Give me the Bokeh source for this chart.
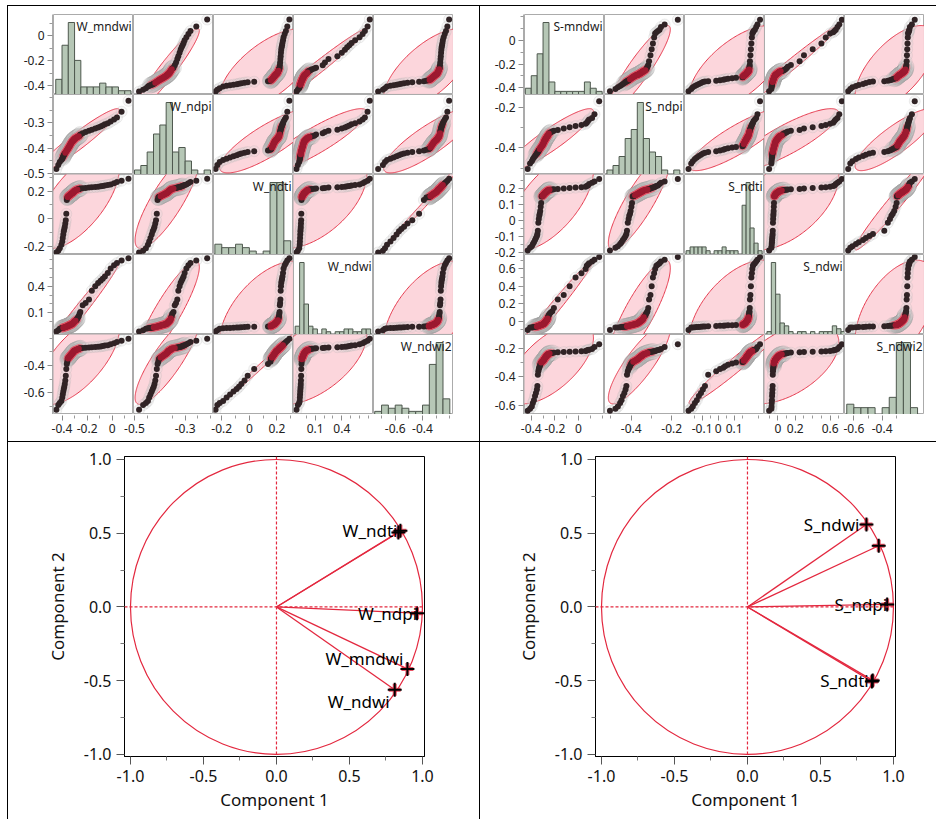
import numpy as np
from bokeh.plotting import figure
from bokeh.layouts import row, column
from bokeh.models import Range1d, FixedTicker, Spacer, ColumnDataSource, Span
from bokeh.embed import file_html
from bokeh.resources import INLINE
from bokeh.core.properties import value

FONT = "Noto Sans"

# ---------------- data: W group (sorted observations) ----------------
W_names = ["W_mndwi", "W_ndpi", "W_ndti", "W_ndwi", "W_ndwi2"]
W_mndwi = [-0.445, -0.430, -0.418, -0.405,
           -0.398, -0.394, -0.390, -0.386, -0.382, -0.378, -0.374, -0.370, -0.366, -0.362, -0.358, -0.355, -0.352,
           -0.349, -0.347, -0.344, -0.341, -0.338, -0.336, -0.333, -0.330, -0.327, -0.325, -0.322, -0.319, -0.316,
           -0.313, -0.311, -0.308, -0.306, -0.303, -0.301,
           -0.297, -0.292, -0.288, -0.283, -0.278, -0.272, -0.266, -0.260, -0.254,
           -0.235, -0.212, -0.185, -0.162, -0.135, -0.112, -0.092, -0.075, -0.058, -0.035, -0.012, 0.015, 0.038,
           0.075, 0.130]
W_ndpi = [-0.482, -0.466, -0.455, -0.447, -0.442, -0.437, -0.432, -0.428,
          -0.424, -0.421, -0.418, -0.415, -0.412, -0.409, -0.406, -0.404, -0.401,
          -0.399, -0.397, -0.394, -0.392, -0.390, -0.387, -0.385, -0.383, -0.381, -0.378, -0.376,
          -0.374, -0.373, -0.371, -0.370, -0.368, -0.367, -0.365, -0.364, -0.362, -0.361, -0.359, -0.358, -0.356,
          -0.355, -0.353, -0.351,
          -0.346, -0.341, -0.336, -0.331, -0.327,
          -0.322, -0.318, -0.314, -0.310, -0.306, -0.302,
          -0.295, -0.287, -0.279, -0.256, -0.213]
W_ndti = [-0.245, -0.232, -0.215, -0.190, -0.165, -0.140, -0.115, -0.092, -0.075, -0.058, -0.035, -0.012, 0.035,
          0.135,
          0.153, 0.156, 0.158, 0.161, 0.163, 0.166, 0.168, 0.170, 0.172, 0.174, 0.176, 0.178, 0.180, 0.182, 0.184,
          0.186, 0.188, 0.190, 0.192, 0.195, 0.198,
          0.201, 0.203, 0.205, 0.207, 0.209, 0.211, 0.213, 0.215, 0.217, 0.219, 0.221, 0.223, 0.225, 0.227, 0.229,
          0.231, 0.234, 0.237, 0.240, 0.244, 0.248,
          0.256, 0.265, 0.275, 0.290]
W_ndwi = [-0.110, -0.095, -0.080,
          -0.074, -0.072, -0.070, -0.068, -0.066, -0.064, -0.062, -0.060, -0.058, -0.056, -0.054, -0.052, -0.050,
          -0.048, -0.046, -0.044, -0.042, -0.040, -0.038, -0.036, -0.034, -0.032, -0.031, -0.029, -0.028, -0.026,
          -0.022, -0.018, -0.014, -0.010, -0.006, -0.002, 0.003, 0.008, 0.012, 0.017, 0.022,
          0.035, 0.050, 0.065, 0.090, 0.110,
          0.185, 0.210, 0.250, 0.350, 0.400, 0.435, 0.460, 0.485, 0.510, 0.550, 0.600, 0.635, 0.660, 0.690, 0.715]
W_ndwi2 = [-0.725, -0.690, -0.675, -0.660, -0.635, -0.612, -0.590, -0.572, -0.555, -0.535, -0.510, -0.475,
           -0.425, -0.390, -0.372, -0.355,
           -0.348, -0.345, -0.342, -0.339, -0.336, -0.333, -0.330, -0.327, -0.324, -0.321, -0.318, -0.315,
           -0.312, -0.309, -0.306, -0.303,
           -0.298, -0.296, -0.294, -0.292, -0.290, -0.288, -0.286, -0.284, -0.282, -0.280, -0.278, -0.276,
           -0.274, -0.272, -0.270, -0.268, -0.266, -0.264, -0.262, -0.260, -0.257, -0.254, -0.251,
           -0.245, -0.237, -0.228, -0.218, -0.205]

W_lo = [-0.468, -0.504, -0.260, -0.144, -0.759]
W_hi = [0.170, -0.188, 0.320, 0.757, -0.173]
W_yticks = [[-0.4, -0.2, 0.0], [-0.5, -0.4, -0.3], [-0.2, 0.0, 0.2], [0.1, 0.4], [-0.6, -0.4]]
W_xticks = [[-0.4, -0.2, 0.0], [-0.5, -0.3], [-0.2, 0.0, 0.2], [0.1, 0.4], [-0.6, -0.4]]
W_minor = [[-0.3, -0.1, 0.1], [-0.45, -0.35, -0.25, -0.2], [-0.1, 0.1, 0.3],
           [0.0, 0.2, 0.3, 0.5, 0.6, 0.7], [-0.7, -0.5, -0.3, -0.2]]
W_bin_start = [-0.45, -0.50, -0.25, -0.125, -0.75]
W_bin_width = [0.05, 0.025, 0.05, 0.05, 0.05]
W_bin_n = [12, 12, 11, 17, 11]

# ---------------- data: S group ----------------
S_names = ["S-mndwi", "S_ndpi", "S_ndti", "S_ndwi", "S_ndwi2"]
S_mndwi = [-0.430, -0.410,
           -0.395, -0.386, -0.377, -0.368, -0.360, -0.352,
           -0.348, -0.344, -0.340, -0.336, -0.332, -0.328, -0.324, -0.320, -0.316, -0.312, -0.308, -0.305, -0.302,
           -0.299, -0.297, -0.295, -0.293, -0.291, -0.289, -0.287, -0.285, -0.283, -0.281, -0.279, -0.277, -0.275,
           -0.273, -0.271, -0.269, -0.267, -0.265, -0.263, -0.261, -0.258, -0.255, -0.252,
           -0.245, -0.235, -0.222, -0.208,
           -0.175, -0.125, -0.075, -0.025, 0.025,
           0.060, 0.070, 0.080, 0.090, 0.115, 0.135, 0.175]
S_ndpi = [-0.505, -0.478, -0.466, -0.455, -0.448, -0.441, -0.434,
          -0.428, -0.424, -0.421, -0.417, -0.413, -0.410, -0.406, -0.403,
          -0.399, -0.396, -0.393, -0.390, -0.387, -0.384, -0.381, -0.378, -0.375, -0.372,
          -0.369, -0.367, -0.365, -0.363, -0.361, -0.359, -0.357, -0.355, -0.353, -0.351, -0.349, -0.347, -0.345,
          -0.344, -0.342, -0.341,
          -0.338, -0.334, -0.330, -0.327, -0.323, -0.320, -0.316, -0.312,
          -0.305, -0.299, -0.293, -0.287, -0.282,
          -0.276, -0.268, -0.260, -0.253, -0.235, -0.170]
S_ndti = [-0.185, -0.168, -0.158, -0.145, -0.133, -0.120, -0.107, -0.095, -0.082, -0.062, -0.012, 0.012, 0.032,
          0.044, 0.062, 0.088, 0.112,
          0.152, 0.154, 0.156, 0.158, 0.160, 0.162, 0.164, 0.166, 0.168, 0.170, 0.171, 0.173, 0.174,
          0.176, 0.177, 0.178, 0.180, 0.181, 0.182, 0.184, 0.185, 0.186, 0.188, 0.189, 0.190, 0.192, 0.193, 0.194,
          0.195, 0.196, 0.198, 0.199,
          0.202, 0.205, 0.208, 0.211, 0.214, 0.218, 0.222,
          0.230, 0.238, 0.246, 0.262]
S_ndwi = [-0.100,
          -0.074, -0.072, -0.070, -0.068, -0.066, -0.064, -0.062, -0.060, -0.058, -0.056, -0.054, -0.052, -0.050,
          -0.048, -0.046, -0.044, -0.042, -0.040, -0.038, -0.036, -0.034, -0.032, -0.030, -0.028, -0.026,
          -0.023, -0.019, -0.016, -0.012, -0.009, -0.005, -0.002, 0.002, 0.005, 0.009, 0.012, 0.016, 0.019, 0.023,
          0.032, 0.045, 0.057, 0.068, 0.085, 0.100, 0.115, 0.150,
          0.250, 0.300, 0.400, 0.500, 0.550, 0.600, 0.635, 0.650, 0.665, 0.685, 0.705, 0.735]
S_ndwi2 = [-0.640, -0.625, -0.610, -0.585, -0.565, -0.535, -0.515, -0.490, -0.465, -0.385, -0.360,
           -0.345, -0.335, -0.325, -0.315, -0.305,
           -0.298, -0.296, -0.293, -0.291, -0.288, -0.286, -0.283, -0.281, -0.279, -0.276, -0.274, -0.271,
           -0.269, -0.266, -0.264, -0.262, -0.259, -0.257, -0.255, -0.253, -0.251,
           -0.249, -0.247, -0.245, -0.243, -0.241, -0.239, -0.237, -0.235, -0.233, -0.231, -0.229, -0.227,
           -0.225, -0.223, -0.221, -0.219, -0.217, -0.214, -0.211, -0.208, -0.204,
           -0.190, -0.170]

S_lo = [-0.457, -0.532, -0.210, -0.153, -0.666]
S_hi = [0.220, -0.137, 0.290, 0.765, -0.101]
S_yticks = [[-0.4, -0.2, 0.0], [-0.4, -0.2], [-0.2, -0.1, 0.0, 0.1, 0.2], [0.0, 0.2, 0.4, 0.6], [-0.6, -0.4, -0.2]]
S_xticks = [[-0.4, -0.2, 0.0], [-0.4, -0.2], [-0.1, 0.0, 0.1], [0.0, 0.2, 0.6], [-0.6, -0.4]]
S_minor = [[-0.3, -0.1, 0.1, 0.2], [-0.5, -0.3], [-0.15, -0.05, 0.05, 0.15, 0.25],
           [-0.1, 0.1, 0.3, 0.4, 0.5, 0.7], [-0.5, -0.3]]
S_bin_start = [-0.45, -0.52, -0.20, -0.125, -0.65]
S_bin_width = [0.05, 0.03, 0.025, 0.05, 0.05]
S_bin_n = [13, 12, 19, 18, 10]

# ---------------- data: PCA loadings ----------------
W_pc1 = [0.897, 0.963, 0.849, 0.810, 0.835]
W_pc2 = [-0.420, -0.042, 0.516, -0.561, 0.505]
W_show = [True, True, True, True, False]
S_pc1 = [0.899, 0.957, 0.858, 0.815, 0.852]
S_pc2 = [0.415, 0.017, -0.498, 0.559, -0.505]
S_show = [False, True, True, True, False]
UNIT_RADIUS = 1.0
PCA_TICKS = [-1.0, -0.5, 0.0, 0.5, 1.0]
PCA_MINOR = [-0.75, -0.25, 0.25, 0.75]

# label offsets (style, screen px)
W_xo = [-4, 0, -3, -5, 0]
W_yo = [-10, 0, 0, 12, 0]
S_xo = [0, 0, -4, -7, 0]
S_yo = [0, 0, 0, 0, 0]

W_DATA = [W_mndwi, W_ndpi, W_ndti, W_ndwi, W_ndwi2]
S_DATA = [S_mndwi, S_ndpi, S_ndti, S_ndwi, S_ndwi2]
for grp in (W_DATA, S_DATA):
    for d in grp:
        assert len(d) == 60, len(d)

PINK = "#fcd4da"
RED_LINE = "#e5394d"
HIST_FILL = "#b6c7b6"
HIST_LINE = "#4e584e"
CELL_LINE = "#ababab"
CELL = 80


def fmt(t):
    return f"{t:g}"


def style_axis(ax):
    ax.axis_line_color = CELL_LINE
    ax.major_tick_line_color = "#8a8a8a"
    ax.minor_tick_line_color = "#9a9a9a"
    ax.major_tick_in = 0
    ax.major_tick_out = 5
    ax.minor_tick_in = 0
    ax.minor_tick_out = 3
    ax.major_label_text_font = FONT
    ax.major_label_text_font_size = "12px"
    ax.major_label_text_color = "#222222"
    ax.major_label_standoff = 3


def strip_ticks(lo, hi, ticks, minors, flip):
    """Place each variable's ticks inside its own cell of a 0..5 strip axis."""
    pos, labels, mpos = [], {}, []
    for k in range(5):
        slot = (4 - k) if flip else k
        span = hi[k] - lo[k]
        for t in ticks[k]:
            v = slot + (t - lo[k]) / span
            pos.append(v)
            labels[v] = fmt(t)
        for t in minors[k]:
            if lo[k] < t < hi[k]:
                mpos.append(slot + (t - lo[k]) / span)
    return pos, labels, mpos


def ellipse_xy(x, y, level_chi2=5.991):
    mx, my = x.mean(), y.mean()
    cov = np.cov(x, y)
    vals, vecs = np.linalg.eigh(cov)
    vals = np.clip(vals, 1e-12, None)
    t = np.linspace(0, 2 * np.pi, 240)
    k = np.sqrt(level_chi2)
    circ = np.vstack([k * np.sqrt(vals[0]) * np.cos(t), k * np.sqrt(vals[1]) * np.sin(t)])
    pts = vecs @ circ
    return mx + pts[0], my + pts[1]


def make_cell(i, j, names, arr, lo, hi, bstart, bwidth, bn):
    p = figure(width=CELL, height=CELL,
               x_range=Range1d(lo[j], hi[j]), y_range=Range1d(lo[i], hi[i]),
               x_axis_location=None, y_axis_location=None,
               toolbar_location=None, output_backend="svg",
               min_border_left=0, min_border_right=0, min_border_top=0, min_border_bottom=0)
    p.outline_line_color = CELL_LINE
    p.background_fill_color = "white"
    p.border_fill_color = "white"
    p.grid.visible = False
    if i == j:
        edges = bstart[i] + bwidth[i] * np.arange(bn[i] + 1)
        counts, edges = np.histogram(arr[i], bins=edges)
        top_c = counts.max() / 0.9
        p.extra_y_ranges = {"cnt": Range1d(0, top_c)}
        p.quad(left=edges[:-1], right=edges[1:], bottom=0, top=counts, y_range_name="cnt",
               fill_color=HIST_FILL, line_color=HIST_LINE, line_width=1)
        p.text(x=[hi[i]], y=[top_c], text=[names[i]], y_range_name="cnt",
               text_align="right", text_baseline="top", x_offset=-2, y_offset=3,
               text_font=value(FONT), text_font_size="12px", text_color="#1a1a1a")
    else:
        x = arr[j]
        y = arr[i]
        ex, ey = ellipse_xy(x, y)
        p.patch(ex, ey, fill_color=PINK, fill_alpha=0.95, line_color=RED_LINE, line_width=1)
        xn = (x - lo[j]) / (hi[j] - lo[j])
        yn = (y - lo[i]) / (hi[i] - lo[i])
        dd = np.sqrt((xn[:, None] - xn[None, :]) ** 2 + (yn[:, None] - yn[None, :]) ** 2)
        dens = (dd < 0.07).sum(1)
        core = dens >= 0.6 * dens.max()
        mid = dens >= 0.4 * dens.max()
        p.scatter(x[mid], y[mid], size=16, fill_color="#cfcfcf", fill_alpha=0.18,
                  line_color="#a0a0a0", line_alpha=0.22, line_width=1)
        p.scatter(x, y, size=11, fill_color="#d6d6d6", fill_alpha=0.2,
                  line_color="#a8a8a8", line_alpha=0.2, line_width=1)
        p.scatter(x[mid], y[mid], size=9, fill_color="#e24a5e", fill_alpha=0.3, line_color=None)
        p.scatter(x[~core], y[~core], size=6, fill_color="#302325", line_color=None)
        p.scatter(x[core], y[core], size=6, fill_color="#9c1a30", line_color=None)
    return p


def make_matrix(names, data, lo, hi, yt, xt, mt, bstart, bwidth, bn, left, right, top, bottom):
    arr = [np.array(d, dtype=float) for d in data]
    rows = []
    for i in range(5):
        rows.append(row(*[make_cell(i, j, names, arr, lo, hi, bstart, bwidth, bn) for j in range(5)]))
    cells = column(*rows)

    # left axis strip (one axis carrying every row variable's ticks)
    ypos, ylab, ymin = strip_ticks(lo, hi, yt, mt, flip=True)
    ls = figure(width=left, height=top + 5 * CELL, x_range=Range1d(0, 1), y_range=Range1d(0, 5),
                x_axis_location=None, y_axis_location="left", toolbar_location=None,
                output_backend="svg", min_border_left=left - 1, min_border_right=0,
                min_border_top=top, min_border_bottom=0)
    ls.outline_line_color = None
    ls.grid.visible = False
    ls.background_fill_color = "white"
    ls.border_fill_color = "white"
    ax = ls.yaxis[0]
    ax.ticker = FixedTicker(ticks=ypos, minor_ticks=ymin)
    ax.major_label_overrides = ylab
    style_axis(ax)

    # bottom axis strip
    xpos, xlab, xmin = strip_ticks(lo, hi, xt, mt, flip=False)
    bs = figure(width=left + 5 * CELL + right, height=bottom, x_range=Range1d(0, 5), y_range=Range1d(0, 1),
                x_axis_location="below", y_axis_location=None, toolbar_location=None,
                output_backend="svg", min_border_left=left, min_border_right=right,
                min_border_top=0, min_border_bottom=bottom - 1)
    bs.outline_line_color = None
    bs.grid.visible = False
    bs.background_fill_color = "white"
    bs.border_fill_color = "white"
    bx = bs.xaxis[0]
    bx.ticker = FixedTicker(ticks=xpos, minor_ticks=xmin)
    bx.major_label_overrides = xlab
    style_axis(bx)
    bx.axis_line_color = None

    upper = row(ls, column(Spacer(width=5 * CELL, height=top), cells),
                Spacer(width=right, height=top + 5 * CELL))
    return column(upper, bs)


def make_pca(names, pc1, pc2, show, xo, yo, left, right):
    p = figure(width=left + 300 + right, height=377,
               x_range=Range1d(-1.041, 1.014), y_range=Range1d(-1.014, 1.02),
               toolbar_location=None, output_backend="svg",
               min_border_left=left, min_border_right=right, min_border_top=14, min_border_bottom=63)
    p.grid.visible = False
    p.outline_line_color = "black"
    p.outline_line_width = 1
    p.background_fill_color = "white"
    p.border_fill_color = "white"
    red = "#e3283f"
    p.add_layout(Span(location=0, dimension="height", line_color=red, line_dash="3 2", line_width=1.2))
    p.add_layout(Span(location=0, dimension="width", line_color=red, line_dash="3 2", line_width=1.2))
    p.ellipse(x=[0.0], y=[0.0], width=[2 * UNIT_RADIUS], height=[2 * UNIT_RADIUS],
              fill_color=None, line_color=red, line_width=1.2)
    src = ColumnDataSource(dict(
        x=pc1, y=pc2, x0=[0.0] * len(pc1), y0=[0.0] * len(pc1),
        lab=[n if s else "" for n, s in zip(names, show)], xo=xo, yo=yo))
    p.segment(x0="x0", y0="y0", x1="x", y1="y", source=src, line_color=red, line_width=1.3)
    p.scatter(x="x", y="y", source=src, marker="cross", size=12, line_color=red, line_width=4, line_alpha=0.8)
    p.scatter(x="x", y="y", source=src, marker="cross", size=14, line_color="black", line_width=2)
    p.text(x="x", y="y", text="lab", source=src, x_offset="xo", y_offset="yo",
           text_align="right", text_baseline="middle",
           text_font=value(FONT), text_font_size="17px", text_color="black")
    for ax in (p.xaxis[0], p.yaxis[0]):
        ax.ticker = FixedTicker(ticks=PCA_TICKS, minor_ticks=PCA_MINOR)
        ax.major_label_overrides = {float(t): f"{t:.1f}" for t in PCA_TICKS}
        ax.axis_line_color = "black"
        ax.major_tick_line_color = "#555555"
        ax.minor_tick_line_color = "#777777"
        ax.major_tick_in = 0
        ax.major_tick_out = 8
        ax.minor_tick_in = 0
        ax.minor_tick_out = 4
        ax.major_label_text_font = FONT
        ax.major_label_text_font_size = "16px"
        ax.major_label_text_color = "#111111"
        ax.major_label_standoff = 5
        ax.axis_label_text_font = FONT
        ax.axis_label_text_font_size = "17px"
        ax.axis_label_text_font_style = "normal"
        ax.axis_label_text_color = "#111111"
    p.xaxis.axis_label = "Component 1"
    p.yaxis.axis_label = "Component 2"
    p.xaxis.axis_label_standoff = 3
    p.yaxis.axis_label_standoff = 12
    return p


def vline(h):
    return Spacer(width=1, height=h, styles={"background-color": "black"})


def hline(w):
    return Spacer(width=w, height=1, styles={"background-color": "black"})


mW = make_matrix(W_names, W_DATA, W_lo, W_hi, W_yticks, W_xticks, W_minor,
                 W_bin_start, W_bin_width, W_bin_n, left=45, right=26, top=8, bottom=27)
mS = make_matrix(S_names, S_DATA, S_lo, S_hi, S_yticks, S_xticks, S_minor,
                 S_bin_start, S_bin_width, S_bin_n, left=44, right=12, top=8, bottom=27)
pW = make_pca(W_names, W_pc1, W_pc2, W_show, W_xo, W_yo, left=116, right=55)
pS = make_pca(S_names, S_pc1, S_pc2, S_show, S_xo, S_yo, left=115, right=41)

top_row = row(mW, vline(435), mS)
bot_row = row(pW, vline(377), pS)
right_part = column(hline(928), top_row, hline(928), bot_row)
page = column(Spacer(width=936, height=5), row(Spacer(width=7, height=814), vline(814), right_part))

open("out.html", "w").write(file_html(page, INLINE, title="Scatterplot matrix and loading plots"))
